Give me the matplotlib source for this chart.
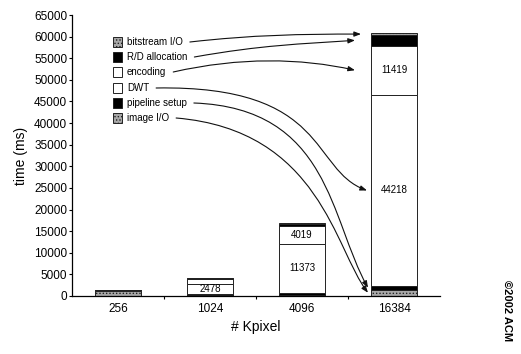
import matplotlib
matplotlib.use("Agg")
import matplotlib.pyplot as plt
import numpy as np
from matplotlib.patches import FancyArrowPatch, Rectangle
from matplotlib.path import Path

plt.rcParams["font.family"] = ["Liberation Sans", "DejaVu Sans"]
plt.rcParams["hatch.linewidth"] = 0.6

W, H = 521, 354

kpixel = ["256", "1024", "4096", "16384"]
image_io = [1100, 200, 300, 1500]
pipeline_setup = [100, 150, 400, 800]
dwt = [150, 2478, 11373, 44218]
encoding = [60, 1000, 4019, 11419]
rd_alloc = [30, 250, 600, 2400]
bitstream_io = [40, 150, 150, 500]

y_ticks = list(range(0, 65001, 5000))

# bottom-to-top stacking order
components = [
    ("image I/O", image_io, "#a8a8a8", "....."),
    ("pipeline setup", pipeline_setup, "black", None),
    ("DWT", dwt, "white", None),
    ("encoding", encoding, "white", None),
    ("R/D allocation", rd_alloc, "black", None),
    ("bitstream I/O", bitstream_io, "#a8a8a8", "....."),
]
labelled = {"DWT", "encoding"}
bar_w = 0.5

fig = plt.figure(figsize=(W / 100, H / 100), dpi=100)
ax = fig.add_axes([72 / W, 1 - 296 / H, 368 / W, 281 / H])

x = np.arange(len(kpixel))
bottom = np.zeros(len(kpixel))
mids = {}
for name, vals, color, hatch in components:
    vals = np.asarray(vals, dtype=float)
    ax.bar(x, vals, bar_w, bottom=bottom, color=color, edgecolor="#222222",
           linewidth=0.7, hatch=hatch)
    mids[name] = bottom + vals / 2
    if name in labelled:
        for xi, v, m in zip(x, vals, mids[name]):
            if v > 2000:
                ax.text(xi, m, f"{int(v)}", ha="center", va="center", fontsize=7)
    bottom = bottom + vals

ax.set_xlim(-0.5, 3.5)
ax.set_ylim(0, 65000)
ax.set_yticks(y_ticks)
ax.set_yticklabels([str(t) for t in y_ticks])
ax.set_xticks(np.arange(0.5, 3.0, 1.0))
ax.set_xticklabels([])
ax.set_xticks(x, minor=True)
ax.set_xticklabels(kpixel, minor=True)
ax.tick_params(axis="x", which="minor", length=0, pad=5, labelsize=8.5)
ax.tick_params(axis="x", which="major", length=2, width=0.8)
ax.tick_params(axis="y", length=2.5, width=0.8, pad=1, labelsize=8.5)
for side in ("top", "right"):
    ax.spines[side].set_visible(False)
for side in ("left", "bottom"):
    ax.spines[side].set_linewidth(0.9)
ax.set_xlabel("# Kpixel", fontsize=10, labelpad=4)
ax.set_ylabel("time (ms)", fontsize=10, labelpad=4)

# hand-made legend in the upper left, top entry first
legend_rows = list(reversed(components))
row_y = [42, 57, 72, 88, 103, 118]
texts = []
for (name, _, color, hatch), yy in zip(legend_rows, row_y):
    fig.add_artist(Rectangle(((113) / W, 1 - (yy + 4.5) / H), 9 / W, 9 / H,
                             transform=fig.transFigure, facecolor=color,
                             edgecolor="#222222", linewidth=0.7, hatch=hatch))
    t = fig.text(127 / W, 1 - yy / H, name, fontsize=7, ha="left", va="center")
    texts.append(t)

fig.canvas.draw()
renderer = fig.canvas.get_renderer()


def to_px(xd, yd):
    dx, dy = ax.transData.transform((xd, yd))
    return dx, H - dy


# bend points of each leader curve (pixels from top-left)
bends = {
    "bitstream I/O": [(252, 35), (300, 34)],
    "R/D allocation": [(262, 45), (300, 44)],
    "encoding": [(240, 57), (300, 58)],
    "DWT": [(330, 85), (310, 170)],
    "pipeline setup": [(330, 108), (330, 220)],
    "image I/O": [(320, 130), (335, 250)],
}
end_gap = {"bitstream I/O": 10, "R/D allocation": 16, "encoding": 16,
           "DWT": 4, "pipeline setup": 3, "image I/O": 3}

left_edge = x[-1] - bar_w / 2
for (name, *_), t in zip(legend_rows, texts):
    bb = t.get_window_extent(renderer)
    x0, y0 = bb.x1 + 7, H - (bb.y0 + bb.y1) / 2
    ex, ey = to_px(left_edge, mids[name][-1])
    ex -= end_gap[name]
    c1, c2 = bends[name]
    pts = [(x0, y0), c1, c2, (ex, ey)]
    verts = [(px / W, 1 - py / H) for px, py in pts]
    path = Path(verts, [Path.MOVETO, Path.CURVE4, Path.CURVE4, Path.CURVE4])
    arrow = FancyArrowPatch(path=path, transform=fig.transFigure,
                            arrowstyle="-|>,head_length=0.8,head_width=0.3",
                            mutation_scale=5, linewidth=0.8, color="#111111")
    fig.add_artist(arrow)

fig.text(507 / W, 1 - 311 / H, "\u00a92002 ACM", rotation=-90, ha="center",
         va="center", fontsize=8, fontweight="bold")

fig.savefig("out.png", dpi=100)
